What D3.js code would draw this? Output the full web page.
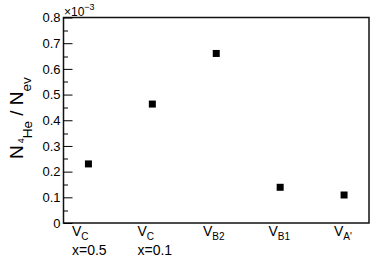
<!DOCTYPE html>
<meta charset="utf-8">
<script src="https://d3js.org/d3.v7.js"></script>
<body style="margin:0">
<div id="my_dataviz"></div>
<script>
    // data (in units of 1e-3)
    var categories = ["VC05", "VC01", "VB2", "VB1", "VA"];
    var labelMain = ["V", "V", "V", "V", "V"];
    var labelSub = ["C", "C", "B2", "B1", "A'"];
    var labelSecond = ["x=0.5", "x=0.1", "", "", ""];
    var ratio = [0.23, 0.463, 0.66, 0.139, 0.109];
    var yTicks = [0, 0.1, 0.2, 0.3, 0.4, 0.5, 0.6, 0.7, 0.8];

    var font = "Liberation Sans, Arial, Helvetica, sans-serif";

    var margin = {top: 17.5, right: 13, bottom: 35, left: 63.5},
        width = 382 - margin.left - margin.right,
        height = 258 - margin.top - margin.bottom;

    var root = d3.select("#my_dataviz")
        .append("svg")
        .attr("width", 382)
        .attr("height", 258)
        .attr("font-family", font);

    // frame
    root.append("rect")
        .attr("x", margin.left)
        .attr("y", margin.top)
        .attr("width", width)
        .attr("height", height)
        .attr("fill", "none")
        .attr("stroke", "#111")
        .attr("stroke-width", 1.5);

    var svg = root.append("g")
        .attr("transform", "translate(" + margin.left + "," + margin.top + ")");

    var x = d3.scalePoint()
        .domain(categories)
        .range([0, width])
        .padding(0.39);

    // alphanumeric labels sit a bit off the markers, like in the original
    var xLabel = d3.scalePoint()
        .domain(categories)
        .range([8.5, 270.5]);

    var y = d3.scaleLinear()
        .domain([0, 0.8])
        .range([height, 0]);

    // left axis, ticks pointing inside
    var yAxis = svg.append("g")
        .call(d3.axisLeft(y).tickValues(yTicks).tickSize(-9).tickPadding(3)
            .tickFormat(d => d === 0 ? "0" : d3.format(".1f")(d)));
    yAxis.select(".domain").remove();
    yAxis.attr("font-family", font);
    yAxis.selectAll("text").attr("font-size", 13).attr("fill", "black");
    yAxis.selectAll("line").attr("stroke", "black");

    var minor = d3.range(0.05, 0.8, 0.1);
    svg.append("g").selectAll("line")
        .data(minor)
        .enter()
        .append("line")
        .attr("x1", 0)
        .attr("x2", 4.5)
        .attr("y1", d => Math.round(y(d)) + 0.5)
        .attr("y2", d => Math.round(y(d)) + 0.5)
        .attr("stroke", "black");

    // x10^-3 multiplier
    var mult = svg.append("text")
        .attr("x", 0.5)
        .attr("y", -1.5)
        .attr("font-size", 12);
    mult.append("tspan").text("\u00d710");
    mult.append("tspan").attr("dy", -6).attr("font-size", 9).text("\u22123");

    // x labels
    var lab = svg.append("g").selectAll("g")
        .data(categories)
        .enter()
        .append("g")
        .attr("transform", d => "translate(" + xLabel(d) + "," + (height + 13) + ")");

    lab.append("text")
        .attr("font-size", 14)
        .each(function (d, i) {
            var t = d3.select(this);
            t.append("tspan").text(labelMain[i]);
            t.append("tspan").attr("dy", 4).attr("font-size", 10).text(labelSub[i]);
        });

    lab.append("text")
        .attr("y", 19)
        .attr("font-size", 14)
        .text((d, i) => labelSecond[i]);

    // markers
    var sz = 7;
    svg.selectAll("rect.pt")
        .data(categories)
        .enter()
        .append("rect")
        .attr("class", "pt")
        .attr("x", d => x(d) - sz / 2)
        .attr("y", (d, i) => y(ratio[i]) - sz / 2)
        .attr("width", sz)
        .attr("height", sz)
        .attr("fill", "black");

    // y title
    var yt = root.append("text")
        .attr("transform", "translate(23,159) rotate(-90)")
        .attr("font-size", 19);
    yt.append("tspan").text("N");
    yt.append("tspan").attr("dx", 2).attr("dy", 1).attr("font-size", 9).text("4");
    yt.append("tspan").attr("dy", 8).attr("font-size", 13.5).text("He");
    yt.append("tspan").attr("dy", -9).text(" / N");
    yt.append("tspan").attr("dy", 8).attr("font-size", 13.5).text("ev");
</script>
</body>
